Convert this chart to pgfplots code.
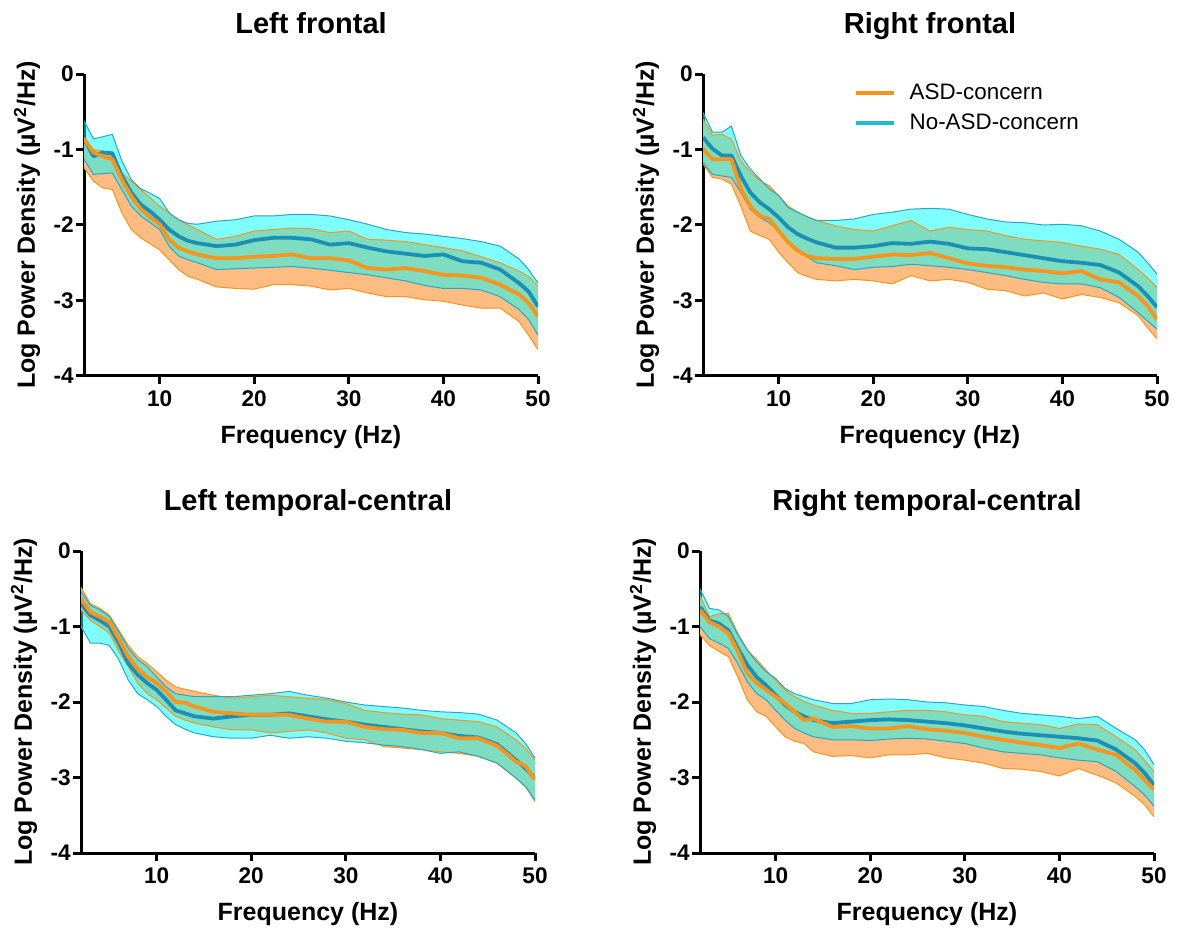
\documentclass[border=0pt]{standalone}
\usepackage{pgfplots}
\pgfplotsset{compat=1.18}
\usepackage{pgfplotstable}
\usepgfplotslibrary{fillbetween}
\usepackage{fontspec}
\setmainfont{Liberation Sans}

\definecolor{orline}{RGB}{247,148,30}
\definecolor{orfill}{RGB}{253,188,130}
\definecolor{tealline}{RGB}{27,143,181}
\definecolor{cyedge}{RGB}{40,165,205}
\definecolor{cyfill}{RGB}{0,255,255}
\definecolor{legcyan}{RGB}{30,188,210}

\pgfplotstableread{
x ou om ol cu cm cl
2 -0.84 -0.86 -1.24 -0.62 -0.86 -1.13
3 -1.00 -1.04 -1.42 -0.86 -1.09 -1.33
4 -1.02 -1.09 -1.51 -0.83 -1.04 -1.32
5 -1.11 -1.13 -1.53 -0.80 -1.05 -1.31
6 -1.31 -1.40 -1.84 -1.15 -1.35 -1.53
7 -1.42 -1.62 -2.06 -1.40 -1.57 -1.75
8 -1.53 -1.79 -2.17 -1.52 -1.73 -1.88
9 -1.64 -1.90 -2.25 -1.58 -1.82 -1.97
10 -1.75 -1.99 -2.33 -1.65 -1.93 -2.06
11 -1.84 -2.19 -2.46 -1.84 -2.06 -2.28
12 -1.93 -2.30 -2.59 -1.93 -2.15 -2.41
13 -2.00 -2.35 -2.68 -1.98 -2.21 -2.46
14 -2.06 -2.39 -2.72 -1.99 -2.24 -2.50
16 -2.19 -2.44 -2.82 -1.95 -2.28 -2.59
18 -2.15 -2.44 -2.84 -1.93 -2.26 -2.58
20 -2.08 -2.42 -2.85 -1.88 -2.20 -2.57
22 -2.06 -2.41 -2.79 -1.88 -2.17 -2.56
24 -2.04 -2.39 -2.79 -1.86 -2.17 -2.55
26 -2.05 -2.44 -2.81 -1.86 -2.19 -2.57
28 -2.10 -2.44 -2.86 -1.88 -2.26 -2.60
30 -2.08 -2.47 -2.84 -1.93 -2.24 -2.63
32 -2.19 -2.57 -2.90 -1.99 -2.30 -2.66
34 -2.20 -2.59 -2.95 -2.06 -2.35 -2.70
36 -2.22 -2.57 -2.95 -2.10 -2.38 -2.74
38 -2.26 -2.61 -2.99 -2.12 -2.41 -2.80
40 -2.30 -2.66 -3.01 -2.15 -2.39 -2.84
42 -2.34 -2.67 -3.06 -2.18 -2.48 -2.84
44 -2.42 -2.70 -3.10 -2.22 -2.50 -2.86
46 -2.50 -2.79 -3.10 -2.28 -2.59 -2.95
48 -2.61 -2.92 -3.28 -2.45 -2.77 -3.12
49 -2.68 -3.03 -3.46 -2.59 -2.88 -3.25
50 -2.81 -3.21 -3.65 -2.77 -3.08 -3.46
}\tabTL

\pgfplotstableread{
x ou om ol cu cm cl
2 -0.60 -0.99 -1.19 -0.51 -0.84 -1.17
3 -0.81 -1.13 -1.37 -0.77 -0.99 -1.33
4 -0.80 -1.13 -1.39 -0.77 -1.08 -1.35
5 -0.86 -1.13 -1.46 -0.69 -1.08 -1.37
6 -1.15 -1.52 -1.75 -1.08 -1.35 -1.57
7 -1.30 -1.75 -2.08 -1.26 -1.57 -1.79
8 -1.41 -1.88 -2.14 -1.39 -1.70 -1.90
9 -1.48 -1.92 -2.19 -1.52 -1.79 -1.97
10 -1.61 -2.08 -2.36 -1.61 -1.90 -2.08
11 -1.75 -2.23 -2.50 -1.77 -2.03 -2.21
12 -1.83 -2.34 -2.63 -1.83 -2.12 -2.32
13 -1.89 -2.41 -2.68 -1.89 -2.18 -2.42
14 -1.94 -2.44 -2.72 -1.94 -2.23 -2.50
16 -2.01 -2.45 -2.74 -1.94 -2.30 -2.54
18 -2.06 -2.45 -2.72 -1.92 -2.30 -2.59
20 -2.08 -2.42 -2.74 -1.86 -2.28 -2.56
22 -2.01 -2.39 -2.78 -1.83 -2.24 -2.55
24 -1.94 -2.40 -2.67 -1.79 -2.25 -2.52
26 -2.08 -2.37 -2.74 -1.78 -2.22 -2.54
28 -2.03 -2.44 -2.72 -1.79 -2.25 -2.56
30 -2.06 -2.51 -2.76 -1.86 -2.31 -2.59
32 -2.08 -2.54 -2.85 -1.92 -2.32 -2.63
34 -2.14 -2.56 -2.87 -1.96 -2.36 -2.67
36 -2.19 -2.59 -2.94 -1.97 -2.40 -2.72
38 -2.21 -2.61 -2.90 -2.00 -2.44 -2.76
40 -2.23 -2.64 -2.98 -1.99 -2.48 -2.78
42 -2.28 -2.61 -2.92 -2.01 -2.50 -2.78
44 -2.32 -2.72 -2.96 -2.08 -2.53 -2.83
46 -2.39 -2.76 -3.03 -2.19 -2.63 -2.96
48 -2.59 -2.94 -3.20 -2.36 -2.81 -3.16
49 -2.70 -3.07 -3.36 -2.50 -2.94 -3.27
50 -2.83 -3.25 -3.51 -2.65 -3.09 -3.38
}\tabTR

\pgfplotstableread{
x ou om ol cu cm cl
2 -0.48 -0.63 -0.78 -0.54 -0.70 -1.00
3 -0.70 -0.81 -0.92 -0.72 -0.85 -1.22
4 -0.76 -0.87 -1.00 -0.78 -0.92 -1.22
5 -0.85 -0.94 -1.09 -0.87 -1.00 -1.25
6 -1.05 -1.16 -1.33 -1.07 -1.22 -1.44
7 -1.25 -1.40 -1.53 -1.29 -1.49 -1.71
8 -1.40 -1.56 -1.75 -1.44 -1.64 -1.89
9 -1.49 -1.67 -1.89 -1.53 -1.75 -1.97
10 -1.60 -1.75 -1.97 -1.67 -1.84 -2.06
11 -1.71 -1.86 -2.08 -1.80 -1.97 -2.19
12 -1.80 -2.00 -2.19 -1.89 -2.11 -2.30
13 -1.83 -2.01 -2.24 -1.91 -2.15 -2.36
14 -1.86 -2.06 -2.28 -1.93 -2.19 -2.41
16 -1.91 -2.13 -2.33 -1.93 -2.22 -2.46
18 -1.95 -2.15 -2.37 -1.93 -2.19 -2.48
20 -1.93 -2.17 -2.37 -1.91 -2.17 -2.48
22 -1.91 -2.17 -2.41 -1.89 -2.17 -2.44
24 -1.93 -2.17 -2.39 -1.86 -2.15 -2.48
26 -1.95 -2.22 -2.37 -1.91 -2.19 -2.46
28 -1.97 -2.26 -2.41 -1.95 -2.23 -2.48
30 -2.02 -2.26 -2.48 -2.00 -2.26 -2.52
32 -2.11 -2.33 -2.50 -2.04 -2.30 -2.54
34 -2.14 -2.36 -2.59 -2.06 -2.33 -2.57
36 -2.16 -2.37 -2.61 -2.08 -2.36 -2.59
38 -2.17 -2.41 -2.63 -2.11 -2.39 -2.63
40 -2.22 -2.41 -2.66 -2.13 -2.41 -2.68
42 -2.24 -2.48 -2.68 -2.14 -2.45 -2.66
44 -2.26 -2.48 -2.72 -2.16 -2.47 -2.72
46 -2.33 -2.58 -2.81 -2.24 -2.56 -2.81
48 -2.50 -2.79 -3.01 -2.41 -2.77 -3.01
49 -2.61 -2.85 -3.12 -2.55 -2.88 -3.12
50 -2.77 -3.03 -3.32 -2.74 -3.01 -3.30
}\tabBL

\pgfplotstableread{
x ou om ol cu cm cl
2 -0.59 -0.78 -1.11 -0.50 -0.74 -1.00
3 -0.87 -0.94 -1.25 -0.76 -0.92 -1.16
4 -0.83 -1.00 -1.33 -0.78 -0.96 -1.22
5 -0.83 -1.09 -1.40 -0.87 -1.05 -1.29
6 -1.09 -1.33 -1.67 -1.11 -1.29 -1.49
7 -1.31 -1.62 -1.97 -1.31 -1.51 -1.73
8 -1.44 -1.75 -2.13 -1.47 -1.67 -1.89
9 -1.58 -1.84 -2.19 -1.60 -1.78 -1.97
10 -1.71 -1.93 -2.33 -1.69 -1.91 -2.11
11 -1.84 -2.02 -2.46 -1.82 -2.04 -2.24
12 -1.93 -2.13 -2.52 -1.89 -2.13 -2.35
13 -1.99 -2.24 -2.55 -1.93 -2.19 -2.41
14 -2.04 -2.22 -2.66 -1.97 -2.24 -2.46
16 -2.11 -2.33 -2.72 -2.02 -2.28 -2.50
18 -2.15 -2.32 -2.71 -2.02 -2.26 -2.50
20 -2.15 -2.35 -2.74 -1.97 -2.24 -2.51
22 -2.13 -2.35 -2.70 -1.96 -2.23 -2.49
24 -2.11 -2.32 -2.70 -1.97 -2.24 -2.48
26 -2.11 -2.36 -2.68 -2.00 -2.26 -2.49
28 -2.13 -2.38 -2.74 -2.01 -2.28 -2.52
30 -2.17 -2.41 -2.77 -2.04 -2.31 -2.55
32 -2.19 -2.46 -2.81 -2.06 -2.35 -2.61
34 -2.26 -2.50 -2.88 -2.11 -2.39 -2.66
36 -2.28 -2.54 -2.89 -2.15 -2.42 -2.68
38 -2.30 -2.57 -2.92 -2.17 -2.44 -2.70
40 -2.35 -2.61 -2.98 -2.19 -2.46 -2.74
42 -2.29 -2.55 -2.88 -2.22 -2.48 -2.77
44 -2.30 -2.63 -2.97 -2.19 -2.51 -2.79
46 -2.46 -2.70 -3.07 -2.35 -2.63 -2.92
48 -2.63 -2.90 -3.25 -2.50 -2.81 -3.12
49 -2.77 -3.03 -3.36 -2.63 -2.94 -3.23
50 -2.92 -3.16 -3.52 -2.83 -3.10 -3.38
}\tabBR

\pgfplotsset{
 panel/.style={
  scale only axis, width=227pt, height=151pt,
  xmin=2, xmax=50, ymin=-4, ymax=0,
  axis x line=bottom, axis y line=left,
  axis line style={-, line width=1.5pt, black},
  xtick={10,20,30,40,50}, xticklabels={10,20,30,40,50},
  ytick={-4,-3,-2,-1,0}, yticklabels={-4,-3,-2,-1,0},
  tick align=outside, major tick length=4pt,
  tick style={line width=1.5pt, black},
  ticklabel style={font=\fontsize{11.3}{13}\selectfont\bfseries},
  yticklabel style={inner xsep=1pt},
  xlabel={Frequency (Hz)},
  ylabel={Log Power Density (µV\textsuperscript{2}/Hz)},
  label style={font=\fontsize{12.5}{14}\selectfont\bfseries},
  xlabel style={at={(axis description cs:0.5,-0.222)}, anchor=base},
  ylabel style={at={(axis description cs:-0.1256,0.5)}, anchor=center},
  title style={font=\fontsize{14.5}{16}\selectfont\bfseries,
    at={(axis description cs:0.5,1.096)}, anchor=base},
 }
}

\newcommand{\bands}[1]{%
  \addplot[draw=none, name path=ou, forget plot] table[x=x,y=ou]{#1};
  \addplot[draw=none, name path=ol, forget plot] table[x=x,y=ol]{#1};
  \addplot[draw=none, name path=cu, forget plot] table[x=x,y=cu]{#1};
  \addplot[draw=none, name path=cl, forget plot] table[x=x,y=cl]{#1};
  \addplot[orfill, draw=none, forget plot] fill between[of=ou and ol];
  \addplot[cyfill, draw=none, fill opacity=0.5, forget plot] fill between[of=cu and cl];
  \addplot[orline, line width=0.5pt, forget plot] table[x=x,y=ou]{#1};
  \addplot[orline, line width=0.5pt, forget plot] table[x=x,y=ol]{#1};
  \addplot[cyedge, line width=0.5pt, forget plot] table[x=x,y=cu]{#1};
  \addplot[cyedge, line width=0.5pt, forget plot] table[x=x,y=cl]{#1};
  \addplot[tealline, line width=1.9pt, line join=round, forget plot] table[x=x,y=cm]{#1};
  \addplot[orline, line width=1.9pt, line join=round, forget plot] table[x=x,y=om]{#1};
}

\begin{document}
\begin{tikzpicture}

\begin{axis}[panel, at={(42pt,278pt)}, anchor=south west, title={Left frontal}]
\bands{\tabTL}
\end{axis}

\begin{axis}[panel, at={(351.5pt,278pt)}, anchor=south west, title={Right frontal},
  legend style={draw=none, fill=none, at={(axis description cs:0.319,0.995)}, anchor=north west,
    font=\fontsize{11.2}{13}\selectfont, row sep=1.5pt, cells={anchor=west}},
  legend image code/.code={\draw[#1] (0pt,0pt) -- (19pt,0pt);}]
\bands{\tabTR}
\addlegendimage{orline, line width=2.2pt}
\addlegendentry{\hspace*{4.5pt}ASD-concern}
\addlegendimage{legcyan, line width=2.2pt}
\addlegendentry{\hspace*{4.5pt}No-ASD-concern}
\end{axis}

\begin{axis}[panel, at={(40.5pt,39.5pt)}, anchor=south west, title={Left temporal-central}]
\bands{\tabBL}
\end{axis}

\begin{axis}[panel, at={(350pt,39.5pt)}, anchor=south west, title={Right temporal-central}]
\bands{\tabBR}
\end{axis}

\pgfresetboundingbox
\useasboundingbox (0,0) rectangle (588.5pt,466pt);
\end{tikzpicture}
\end{document}
